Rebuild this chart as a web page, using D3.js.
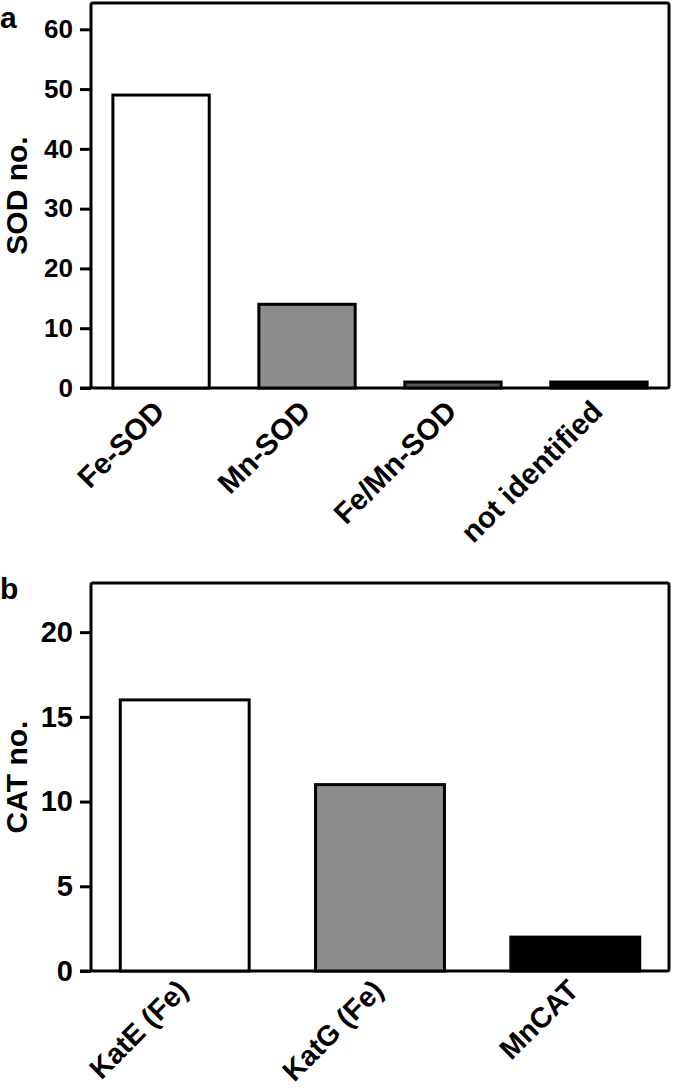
<!DOCTYPE html>
<html>
<head>
<meta charset="utf-8">
<script src="https://cdn.jsdelivr.net/npm/d3@7"></script>
<style>
  html, body { margin: 0; padding: 0; background: #fff; }
  svg { display: block; }
  text { font-family: "Liberation Sans", Arial, sans-serif; font-weight: bold; fill: #000; }
</style>
</head>
<body>
<svg id="chart" width="680" height="1092"></svg>
<script>
// ---- data ----
const sodCategories = ["Fe-SOD", "Mn-SOD", "Fe/Mn-SOD", "not identified"];
const sodValues = [49, 14, 1, 1];
const sodTicks = [0, 10, 20, 30, 40, 50, 60];

const catCategories = ["KatE (Fe)", "KatG (Fe)", "MnCAT"];
const catValues = [16, 11, 2];
const catTicks = [0, 5, 10, 15, 20];

// ---- styles ----
const sodFills = ["#ffffff", "#8c8c8c", "#555555", "#000000"];
const catFills = ["#ffffff", "#8c8c8c", "#000000"];

const svg = d3.select("#chart");

function panel(opts) {
  const { cats, vals, ticks, fills, yMax, left, right, top, bottom, title, letter, letterY,
          tickFont, tickSize, labelSize, labelOffset } = opts;
  const g = svg.append("g");
  const x = d3.scaleBand().domain(cats).range([left, right]).paddingInner(0.34).paddingOuter(0.15);
  const y = d3.scaleLinear().domain([0, yMax]).range([bottom, top]);
  const color = d3.scaleOrdinal().domain(cats).range(fills);

  // frame
  g.append("rect")
    .attr("x", left).attr("y", top)
    .attr("width", right - left).attr("height", bottom - top)
    .attr("rx", 2)
    .attr("fill", "none").attr("stroke", "#000").attr("stroke-width", 3);

  // bars
  g.selectAll("rect.bar").data(cats).join("rect")
    .attr("class", "bar")
    .attr("x", d => x(d))
    .attr("width", x.bandwidth())
    .attr("y", (d, i) => y(vals[i]))
    .attr("height", (d, i) => y(0) - y(vals[i]))
    .attr("fill", d => color(d))
    .attr("stroke", "#000").attr("stroke-width", 3);

  // y axis
  const ax = g.append("g").attr("transform", `translate(${left},0)`)
    .call(d3.axisLeft(y).tickValues(ticks).tickSize(11).tickPadding(7));
  ax.select(".domain").remove();
  ax.selectAll(".tick line").attr("stroke", "#000").attr("stroke-width", 3);
  ax.selectAll(".tick text")
    .style("font-size", tickSize)
    .style("font-family", tickFont)
    .style("font-weight", "bold")
    .attr("fill", "#000");

  // x-axis line extension to the left
  g.append("line")
    .attr("x1", left - 11).attr("x2", left)
    .attr("y1", y(0)).attr("y2", y(0))
    .attr("stroke", "#000").attr("stroke-width", 3);

  // x labels
  g.selectAll("text.xl").data(cats).join("text")
    .attr("class", "xl")
    .attr("text-anchor", "end")
    .attr("transform", d => `translate(${x(d) + x.bandwidth() / 2 - 2},${bottom + labelOffset}) rotate(-45)`)
    .attr("dy", "0.35em")
    .style("font-size", labelSize)
    .text(d => d);

  // y title
  g.append("text")
    .attr("text-anchor", "middle")
    .attr("transform", `translate(27,${(top + bottom) / 2}) rotate(-90)`)
    .style("font-size", "30px")
    .text(title);

  // panel letter
  g.append("text")
    .attr("x", 0).attr("y", letterY)
    .style("font-size", "30px")
    .text(letter);
}

panel({ cats: sodCategories, vals: sodValues, ticks: sodTicks, fills: sodFills,
  yMax: 64.4, left: 91, right: 669, top: 3, bottom: 388,
  title: "SOD no.", letter: "a", letterY: 28,
  tickFont: "'Liberation Sans', Arial, sans-serif", tickSize: "26px",
  labelSize: "29.5px", labelOffset: 18 });

panel({ cats: catCategories, vals: catValues, ticks: catTicks, fills: catFills,
  yMax: 22.9, left: 91, right: 669, top: 583, bottom: 971,
  title: "CAT no.", letter: "b", letterY: 599,
  tickFont: "'Liberation Sans Narrow', 'Arial Narrow', 'Liberation Sans', Arial, sans-serif", tickSize: "29px",
  labelSize: "28.5px", labelOffset: 14 });
</script>
</body>
</html>
